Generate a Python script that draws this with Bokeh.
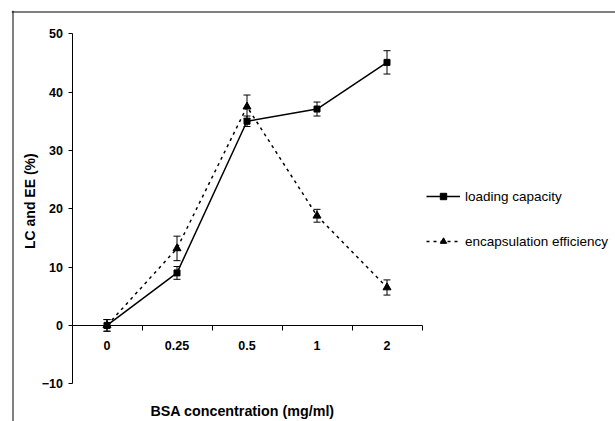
import math
from bokeh.plotting import figure
from bokeh.models import (Range1d, LinearAxis, FixedTicker, Whisker, TeeHead,
                          ColumnDataSource, Legend, LegendItem, Label, Span)
from bokeh.embed import file_html
from bokeh.resources import INLINE

# ---- data ----
categories = ["0", "0.25", "0.5", "1", "2"]
lc = [0.0, 9.0, 35.0, 37.1, 45.1]
lc_err = [1.0, 1.1, 0.9, 1.2, 2.0]
ee = [0.0, 13.2, 37.5, 18.8, 6.5]
ee_err = [1.0, 2.1, 2.0, 1.1, 1.3]
y_ticks = [-10, 0, 10, 20, 30, 40, 50]

xpos = [i + 1 for i in range(len(categories))]
boundaries = [i + 1.5 for i in range(len(categories))]

src = ColumnDataSource(dict(
    x=xpos,
    lc=lc, lc_lo=[v - e for v, e in zip(lc, lc_err)], lc_hi=[v + e for v, e in zip(lc, lc_err)],
    ee=ee, ee_lo=[v - e for v, e in zip(ee, ee_err)], ee_hi=[v + e for v, e in zip(ee, ee_err)],
))

FONT = "Liberation Sans"

PX_X = 70.0     # pixels per category
PX_Y = 5.832    # pixels per y unit
x_range = Range1d(-0.3643, -0.3643 + 604 / PX_X)
y_range = Range1d(53.995 - 411 / PX_Y, 53.995)

p = figure(width=615, height=421, output_backend="svg", toolbar_location=None,
           x_range=x_range, y_range=y_range,
           x_axis_type=None, y_axis_type=None,
           min_border_left=11, min_border_top=10, min_border_right=0, min_border_bottom=0)
p.outline_line_color = None
p.background_fill_color = "white"
p.border_fill_color = "white"

# outer chart-area border (left and top edges visible in the window)
p.add_layout(Span(location=x_range.start + 1.5 / PX_X, dimension="height",
                  line_color="black", line_width=1))
p.add_layout(Span(location=y_range.end - 1.5 / PX_Y, dimension="width",
                  line_color="black", line_width=1))

yaxis = LinearAxis(ticker=FixedTicker(ticks=y_ticks, minor_ticks=[]),
                   fixed_location=0.5, bounds=(min(y_ticks), max(y_ticks)),
                   axis_line_color="black", axis_line_width=1,
                   major_tick_out=4, major_tick_in=0, minor_tick_out=0, minor_tick_in=0,
                   major_tick_line_color="black",
                   major_label_standoff=5,
                   major_label_text_font=FONT, major_label_text_font_style="bold",
                   major_label_text_font_size="12.5px", major_label_text_color="black")
p.add_layout(yaxis, "left")

xaxis = LinearAxis(ticker=FixedTicker(ticks=xpos, minor_ticks=boundaries),
                   fixed_location=0, bounds=(0.5, len(categories) + 0.5),
                   major_label_overrides={x: c for x, c in zip(xpos, categories)},
                   axis_line_color="black", axis_line_width=1,
                   major_tick_out=0, major_tick_in=0,
                   minor_tick_out=5, minor_tick_in=0, minor_tick_line_color="black",
                   major_label_standoff=11,
                   major_label_text_font=FONT, major_label_text_font_style="bold",
                   major_label_text_font_size="12.5px", major_label_text_color="black")
p.add_layout(xaxis, "below")

for lo, hi in (("lc_lo", "lc_hi"), ("ee_lo", "ee_hi")):
    w = Whisker(source=src, base="x", lower=lo, upper=hi, dimension="height",
                line_color="black", line_width=1,
                upper_head=TeeHead(size=7, line_color="black", line_width=1),
                lower_head=TeeHead(size=7, line_color="black", line_width=1))
    p.add_layout(w)

l1 = p.line("x", "lc", source=src, line_color="black", line_width=1.5)
s1 = p.scatter("x", "lc", source=src, marker="square", size=6, color="black")
l2 = p.line("x", "ee", source=src, line_color="black", line_width=1.5, line_dash="3 4")
s2 = p.scatter("x", "ee", source=src, marker="triangle", size=8, color="black")

legend = Legend(items=[LegendItem(label="loading capacity", renderers=[l1, s1]),
                       LegendItem(label="encapsulation efficiency", renderers=[l2, s2])],
                location=(415, 172), glyph_width=34, glyph_height=16, label_height=16,
                spacing=29, label_standoff=5, padding=0, margin=0,
                border_line_color=None, background_fill_alpha=0,
                label_text_font=FONT, label_text_font_size="13.5px", label_text_color="black")
p.add_layout(legend)

p.add_layout(Label(x=-0.093, y=21.3, text="LC and EE (%)", angle=math.pi / 2,
                   text_align="center", text_baseline="middle", text_font=FONT,
                   text_font_style="bold", text_font_size="14px", text_color="black"))
p.add_layout(Label(x=2.936, y=-14.6, text="BSA concentration (mg/ml)",
                   text_align="center", text_baseline="middle", text_font=FONT,
                   text_font_style="bold", text_font_size="14.3px", text_color="black"))

open("out.html", "w").write(file_html(p, INLINE))
